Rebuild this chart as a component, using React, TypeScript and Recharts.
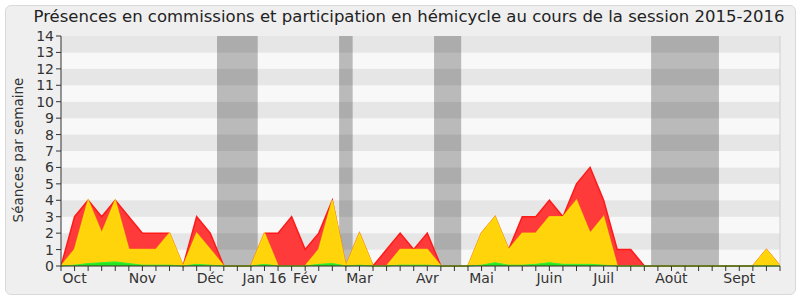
import React from 'react';
import { ComposedChart, Area, XAxis, YAxis, ReferenceArea, ReferenceLine } from 'recharts';

const weeks: number[] = Array.from({ length: 54 }, (_, i) => i);

const totalValues = [
  0, 3, 4, 3, 4, 3, 2, 2, 2, 0, 3, 2, 0, 0, 0, 2, 2, 3, 1, 2, 4, 0, 2, 0, 1, 2, 1, 2, 0, 0,
  0, 2, 3, 1, 3, 3, 4, 3, 5, 6, 4, 1, 1, 0, 0, 0, 0, 0, 0, 0, 0, 0, 1, 0,
];
const hemicycleValues = [
  0, 1, 4, 2, 4, 1, 1, 1, 2, 0, 2, 1, 0, 0, 0, 2, 0, 0, 0, 1, 4, 0, 2, 0, 0, 1, 1, 1, 0, 0,
  0, 2, 3, 1, 2, 2, 3, 3, 4, 2, 3, 0, 0, 0, 0, 0, 0, 0, 0, 0, 0, 0, 1, 0,
];
const commissionValues = [
  0, 0.05, 0.15, 0.2, 0.25, 0.15, 0.05, 0.05, 0.05, 0, 0.1, 0.05, 0, 0, 0, 0.1, 0, 0, 0, 0.1,
  0.15, 0, 0.05, 0, 0, 0.05, 0.05, 0.05, 0, 0, 0, 0.05, 0.2, 0.05, 0.05, 0.1, 0.2, 0.1, 0.1,
  0.1, 0.05, 0, 0, 0, 0, 0, 0, 0, 0, 0, 0, 0, 0, 0,
];

const monthTicks: { [k: number]: string } = {
  1: 'Oct', 6: 'Nov', 11: 'Déc', 15: 'Jan 16', 18: 'Fév', 22: 'Mar',
  27: 'Avr', 31: 'Mai', 36: 'Juin', 40: 'Juil', 45: 'Août', 50: 'Sept',
};

const vacations: [number, number][] = [
  [11.5, 14.5],
  [20.5, 21.5],
  [27.5, 29.5],
  [43.5, 48.5],
];

const yTicks = [0, 1, 2, 3, 4, 5, 6, 7, 8, 9, 10, 11, 12, 13, 14];

const data = weeks.map((i) => ({
  i,
  total: totalValues[i],
  hemi: hemicycleValues[i],
  com: commissionValues[i],
}));

const FONT = 'DejaVu Sans, Verdana, sans-serif';

export default function App() {
  return (
    <div style={{ position: 'absolute', left: 0, top: 0, width: 800, height: 300, background: '#fff' }}>
      <div
        style={{
          position: 'absolute', left: 5, top: 5, width: 789, height: 288,
          background: '#efefef', border: '1px solid #d9d9d9', borderRadius: 6,
        }}
      />
      <div
        style={{
          position: 'absolute', left: 0, top: 7, width: 818, textAlign: 'center',
          fontFamily: FONT, fontSize: 16.5, color: '#222', whiteSpace: 'nowrap',
        }}
      >
        Présences en commissions et participation en hémicycle au cours de la session 2015-2016
      </div>
      <div
        style={{
          position: 'absolute', left: 18, top: 150, width: 0, height: 0,
        }}
      >
        <div
          style={{
            position: 'absolute', left: 0, top: 0, transform: 'translate(-50%, -50%) rotate(-90deg)',
            fontFamily: FONT, fontSize: 13.5, color: '#333', whiteSpace: 'nowrap',
          }}
        >
          Séances par semaine
        </div>
      </div>
      <div style={{ position: 'absolute', left: 0, top: 0 }}>
        <ComposedChart
          width={800}
          height={300}
          data={data}
          margin={{ top: 36, right: 20, bottom: 4, left: 0 }}
        >
          <XAxis
            dataKey="i"
            type="number"
            domain={[0, 53]}
            ticks={weeks}
            interval={0}
            height={30}
            tickFormatter={(v: number) => monthTicks[v] || ''}
            tickSize={5}
            tickLine={{ stroke: '#333' }}
            axisLine={{ stroke: '#3a2a20' }}
            tick={{ fill: '#333', fontSize: 14, fontFamily: FONT }}
            allowDataOverflow
          />
          <XAxis
            xAxisId="top"
            orientation="top"
            dataKey="i"
            type="number"
            domain={[0, 53]}
            ticks={weeks}
            interval={0}
            tick={false}
            tickSize={1}
            tickLine={{ stroke: '#222' }}
            axisLine={false}
            height={0}
          />
          <YAxis
            domain={[0, 14]}
            ticks={yTicks}
            interval={0}
            width={61}
            tickSize={5}
            tickLine={{ stroke: '#333' }}
            axisLine={{ stroke: '#333' }}
            tick={{ fill: '#333', fontSize: 14, fontFamily: FONT }}
          />
          {yTicks.slice(0, -1).map((t) => (
            <ReferenceArea
              key={'s' + t}
              y1={t}
              y2={t + 1}
              fill={t % 2 === 1 ? '#e6e6e6' : '#f8f8f8'}
              fillOpacity={1}
              stroke="none"
              ifOverflow="hidden"
            />
          ))}
          {vacations.map(([a, b], k) => (
            <ReferenceArea
              key={'v' + k}
              x1={a}
              x2={b}
              y1={0}
              y2={14}
              fill="#000"
              fillOpacity={0.25}
              stroke="none"
            />
          ))}
          <ReferenceLine x={53} stroke="#d0d0d0" />
          <Area
            type="linear"
            dataKey="total"
            stroke="#ff1a1a"
            strokeWidth={1.5}
            fill="#ff3a3a"
            fillOpacity={1}
            isAnimationActive={false}
            dot={false}
            activeDot={false}
          />
          <Area
            type="linear"
            dataKey="hemi"
            stroke="#ffee00"
            strokeOpacity={0.7}
            strokeWidth={1.5}
            fill="#ffd40a"
            fillOpacity={1}
            isAnimationActive={false}
            dot={false}
            activeDot={false}
          />
          <Area
            type="linear"
            dataKey="com"
            stroke="#33ee33"
            strokeWidth={1}
            fill="#22e622"
            fillOpacity={1}
            isAnimationActive={false}
            dot={false}
            activeDot={false}
          />
        </ComposedChart>
      </div>
    </div>
  );
}
